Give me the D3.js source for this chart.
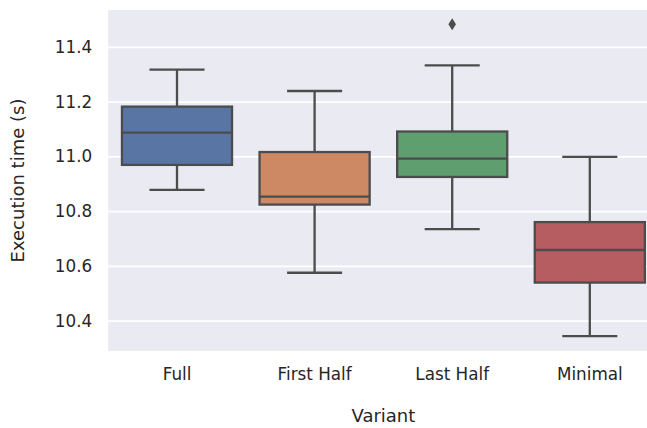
<!DOCTYPE html>
<html>
<head>
<meta charset="utf-8">
<script src="https://cdn.jsdelivr.net/npm/d3@7"></script>
<style>
  html, body { margin: 0; padding: 0; background: #ffffff; }
  svg { display: block; }
  text { font-family: "DejaVu Sans", sans-serif; fill: #262626; }
</style>
</head>
<body>
<svg id="chart" width="647" height="428"></svg>
<script>
// Execution time summary per variant (seconds)
const categories  = ["Full", "First Half", "Last Half", "Minimal"];
const whiskerLow  = [10.878, 10.575, 10.734, 10.343];
const q1          = [10.969, 10.824, 10.925, 10.539];
const median      = [11.087, 10.853, 10.992, 10.658];
const q3          = [11.182, 11.016, 11.091, 10.760];
const whiskerHigh = [11.317, 11.239, 11.333, 10.998];
const outliers    = [[], [], [11.483], []];
const colors      = ["#5975a4", "#cc8963", "#5f9e6e", "#b55d60"];
const yTicks      = [10.4, 10.6, 10.8, 11.0, 11.2, 11.4];

const svg = d3.select("#chart");
const plot = { left: 108.2, right: 658.6, top: 10, bottom: 351 };

const x = d3.scaleBand()
  .domain(categories)
  .range([plot.left, plot.right])
  .paddingInner(0).paddingOuter(0);

const y = d3.scaleLinear()
  .domain([10.289, 11.535])
  .range([plot.bottom, plot.top]);

const lineColor = "#4c4c4c";
const lw = 2.3;

// axes background
svg.append("rect")
  .attr("x", plot.left).attr("y", plot.top)
  .attr("width", plot.right - plot.left)
  .attr("height", plot.bottom - plot.top)
  .attr("fill", "#eaeaf2");

// horizontal grid + y tick labels
const yAxis = d3.axisLeft(y).tickValues(yTicks).tickFormat(d3.format(".1f"))
  .tickSize(-(plot.right - plot.left)).tickPadding(16);
const gy = svg.append("g").attr("transform", `translate(${plot.left},0)`).call(yAxis);
gy.select(".domain").remove();
gy.selectAll(".tick line").attr("stroke", "#ffffff").attr("stroke-width", 1.8);
gy.selectAll(".tick text")
  .attr("font-size", "16.8px").attr("fill", "#262626")
  .style("font-family", "DejaVu Sans, sans-serif");

// x tick labels
const xAxis = d3.axisBottom(x).tickSize(0).tickPadding(17);
const gx = svg.append("g").attr("transform", `translate(0,${plot.bottom})`).call(xAxis);
gx.select(".domain").remove();
gx.selectAll(".tick text")
  .attr("font-size", "16.8px").attr("fill", "#262626")
  .style("font-family", "DejaVu Sans, sans-serif");

// boxes
const bw = x.bandwidth() * 0.8;
const capW = bw / 2;
const g = svg.append("g");
categories.forEach((c, i) => {
  const cx = x(c) + x.bandwidth() / 2;
  const grp = g.append("g");
  // whiskers
  grp.append("line").attr("x1", cx).attr("x2", cx)
    .attr("y1", y(q3[i])).attr("y2", y(whiskerHigh[i]))
    .attr("stroke", lineColor).attr("stroke-width", lw);
  grp.append("line").attr("x1", cx).attr("x2", cx)
    .attr("y1", y(q1[i])).attr("y2", y(whiskerLow[i]))
    .attr("stroke", lineColor).attr("stroke-width", lw);
  // caps
  [whiskerHigh[i], whiskerLow[i]].forEach(v => {
    grp.append("line").attr("x1", cx - capW / 2).attr("x2", cx + capW / 2)
      .attr("y1", y(v)).attr("y2", y(v))
      .attr("stroke", lineColor).attr("stroke-width", lw);
  });
  // box
  grp.append("rect")
    .attr("x", cx - bw / 2).attr("width", bw)
    .attr("y", y(q3[i])).attr("height", y(q1[i]) - y(q3[i]))
    .attr("fill", colors[i]).attr("stroke", lineColor).attr("stroke-width", lw);
  // median
  grp.append("line").attr("x1", cx - bw / 2).attr("x2", cx + bw / 2)
    .attr("y1", y(median[i])).attr("y2", y(median[i]))
    .attr("stroke", lineColor).attr("stroke-width", lw);
  // fliers
  outliers[i].forEach(v => {
    grp.append("path")
      .attr("transform", `translate(${cx},${y(v)})`)
      .attr("d", "M0,-6 L3.8,0 L0,6 L-3.8,0 Z")
      .attr("fill", lineColor);
  });
});

// axis titles
svg.append("text")
  .attr("x", (plot.left + plot.right) / 2).attr("y", 422)
  .attr("text-anchor", "middle").attr("font-size", "18px")
  .text("Variant");

svg.append("text")
  .attr("transform", `translate(23.5,${(plot.top + plot.bottom) / 2}) rotate(-90)`)
  .attr("text-anchor", "middle").attr("font-size", "18px")
  .text("Execution time (s)");
</script>
</body>
</html>
